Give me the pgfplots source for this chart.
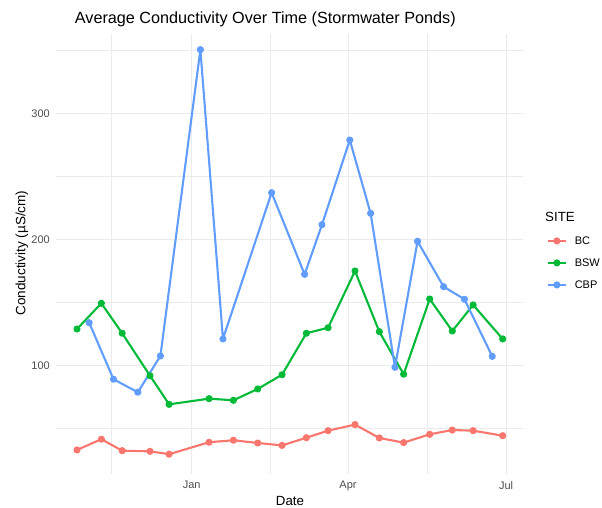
\documentclass[border=0pt]{standalone}
\usepackage{pgfplots}
\pgfplotsset{compat=1.18}
\usepackage{fontspec}
\setmainfont{Liberation Sans}
\definecolor{cBC}{HTML}{F8766D}
\definecolor{cBSW}{HTML}{00BA38}
\definecolor{cCBP}{HTML}{619CFF}
\definecolor{gridc}{HTML}{EBEBEB}
\definecolor{tickc}{HTML}{4D4D4D}
\begin{document}
\begin{tikzpicture}[x=1pt,y=1pt]
\path[use as bounding box] (-56,-34) rectangle (546,474);
\begin{axis}[
  at={(0,0)}, anchor=south west,
  scale only axis, width=467pt, height=440.3pt,
  xmin=-78.1, xmax=190.7, ymin=13.7, ymax=363.2,
  axis line style={draw=none},
  major tick length=0pt, minor tick length=0pt,
  xtick={0,90,181}, xticklabels={Jan,Apr,Jul},
  minor xtick={-46,45,135.5},
  ytick={100,200,300}, minor ytick={50,150,250,350},
  grid=both,
  major grid style={gridc, line width=1.1pt},
  minor grid style={gridc, line width=0.55pt},
  /pgf/number format/assume math mode=true,
  ticklabel style={font=\fontsize{11}{13}\selectfont, text=tickc},
  xticklabel style={anchor=north, inner sep=0pt, yshift=-7pt},
  yticklabel style={anchor=east, inner sep=0pt, xshift=-6pt},
  every axis plot/.append style={line width=2.1pt, line join=round, mark=*, mark size=2.5pt},
  legend style={draw=none, fill=none, inner sep=0pt, outer sep=0pt,
    at={(1.0507,0.5383)}, anchor=north west,
    font=\fontsize{11}{13}\selectfont,
    nodes={inner sep=0pt, text height=7.9pt, text depth=0pt},
    row sep=14.1pt,
    /tikz/every odd column/.append style={column sep=7.7pt}},
  legend cell align=left,
  legend image code/.code={\draw[mark repeat=2,mark phase=2,#1] plot coordinates {(0pt,0pt) (9.15pt,0pt) (18.3pt,0pt)};},
]
\addplot[color=cBC, mark options={fill=cBC, draw=cBC}] coordinates {
(-66,32.8) (-52,41.3) (-40,32.2) (-24,31.7) (-13,29.4) (10,38.9) (24,40.5) (38,38.3) (52,36.4)
(66,42.5) (78.5,48.1) (94,52.9) (108,42.3) (122,38.6) (137,45.2) (150,48.6) (162,48.1) (179,44.1)};
\addlegendentry{BC}
\addplot[color=cBSW, mark options={fill=cBSW, draw=cBSW}] coordinates {
(-66,128.8) (-52,149.2) (-40,125.4) (-24,91.7) (-13,69.0) (10,73.5) (24,72.2) (38,81.2) (52,92.5)
(66,125.4) (78.5,129.8) (94,174.8) (108,126.7) (122,92.9) (137,152.6) (150,127.2) (162,147.9) (179,120.9)};
\addlegendentry{BSW}
\addplot[color=cCBP, mark options={fill=cCBP, draw=cCBP}] coordinates {
(-59,133.8) (-45,88.9) (-31,78.6) (-18,107.4) (5,350.5) (18,120.9) (46,237.0) (65,172.2)
(75,211.6) (91,278.8) (103,220.6) (117,98.4) (130,198.4) (145,162.4) (157,152.4) (173,107.1)};
\addlegendentry{CBP}
\end{axis}
\node[anchor=base west, font=\fontsize{16.2}{19}\selectfont, inner sep=0pt] at (18.7,450.3) {Average Conductivity Over Time (Stormwater Ponds)};
\node[anchor=base, font=\fontsize{13.3}{15}\selectfont, inner sep=0pt] at (234,-31.5) {Date};
\node[anchor=base, rotate=90, font=\fontsize{13.5}{15}\selectfont, inner sep=0pt] at (-30.5,221) {Conductivity (µS/cm)};
\node[anchor=base west, font=\fontsize{13.3}{15}\selectfont, inner sep=0pt] at (489,252.3) {SITE};
\end{tikzpicture}
\end{document}
